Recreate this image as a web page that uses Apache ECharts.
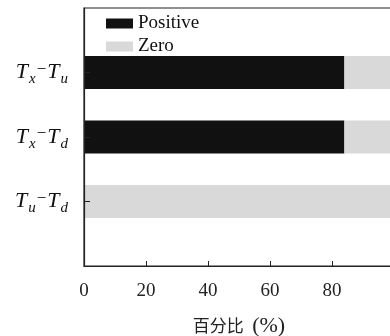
<!DOCTYPE html>
<html>
<head>
<meta charset="utf-8">
<script src="https://cdn.jsdelivr.net/npm/echarts@6/dist/echarts.min.js"></script>
<style>
  html, body { margin: 0; padding: 0; background: #fff; }
  #chart { width: 390px; height: 336px; }
</style>
</head>
<body>
<div id="chart"></div>
<script>
// Pair labels (bottom to top), padded with blank slots so the axis spans 0..4
const categories = ['', 'Tu-Td', 'Tx-Td', 'Tx-Tu', ''];
const positive = [null, 0, 84, 84, null];
const zero = [null, 100, 16, 16, null];
const xTickLabels = [0, 20, 40, 60, 80];

const serif = '"Liberation Serif", "DejaVu Serif", serif';

// Rich text for the math-style labels: italic T with lowered subscripts
const labelText = {
  'Tx-Tu': '{t|T}{s|x}{d|−}{t|T}{s|u}',
  'Tx-Td': '{t|T}{s|x}{d|−}{t|T}{s|d}',
  'Tu-Td': '{t|T}{s|u}{d|−}{t|T}{s|d}'
};

const chart = echarts.init(document.getElementById('chart'));
chart.setOption({
  animation: false,
  grid: {
    left: 84, top: 8, width: 310, height: 258,
    outerBoundsMode: 'none',
    show: true, borderColor: '#222', borderWidth: 1.2
  },
  legend: {
    orient: 'vertical',
    left: 102,
    top: 14,
    icon: 'rect',
    itemWidth: 27,
    itemHeight: 10,
    itemGap: 4,
    padding: [0, 0, 0, 4],
    textStyle: { fontFamily: serif, fontSize: 19, color: '#111', lineHeight: 18 },
    data: ['Positive', 'Zero']
  },
  xAxis: {
    type: 'value',
    min: 0,
    max: 100,
    interval: 20,
    name: '{c|百分比} {l|(%)}',
    nameLocation: 'middle',
    nameGap: 49,
    nameTextStyle: {
      rich: {
        c: { fontFamily: '"Noto Sans CJK SC"', fontSize: 17, color: '#222' },
        l: { fontFamily: serif, fontSize: 22, color: '#222', padding: [0, 0, 0, 5] }
      }
    },
    axisLine: { show: true, lineStyle: { color: '#222', width: 1.2 } },
    axisTick: { show: true, inside: true, length: 5, lineStyle: { color: '#222' } },
    axisLabel: {
      fontFamily: serif, fontSize: 19, color: '#222', margin: 16,
      formatter: v => (xTickLabels.includes(v) ? String(v) : '')
    },
    splitLine: { show: false }
  },
  yAxis: {
    type: 'category',
    data: categories,
    boundaryGap: false,
    z: 5,
    axisLine: { show: true, lineStyle: { color: '#222', width: 1.2 } },
    axisTick: { show: true, inside: true, length: 6, alignWithLabel: true, lineStyle: { color: '#222' },
      interval: i => categories[i] !== '' },
    axisLabel: {
      margin: 16,
      interval: 0,
      formatter: v => labelText[v] || '',
      rich: {
        t: { fontFamily: serif, fontStyle: 'italic', fontSize: 22, color: '#111' },
        s: { fontFamily: serif, fontStyle: 'italic', fontSize: 15, color: '#111', padding: [14, 0, 0, 1] },
        d: { fontFamily: serif, fontSize: 17, color: '#111', padding: [0, 1, 6, 1] }
      }
    },
    splitLine: { show: false }
  },
  series: [
    { name: 'Positive', type: 'bar', stack: 'all', data: positive, barWidth: 33,
      itemStyle: { color: '#111111' } },
    { name: 'Zero', type: 'bar', stack: 'all', data: zero, barWidth: 33,
      itemStyle: { color: '#d9d9d9' } }
  ]
});
</script>
</body>
</html>
